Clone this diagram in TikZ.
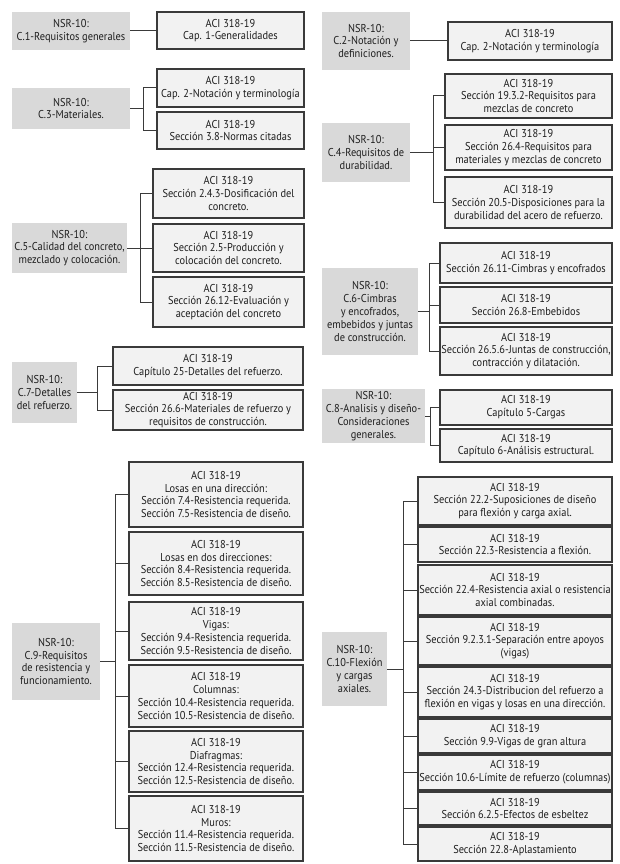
\documentclass[tikz,border=0pt]{standalone}
\usepackage{fontspec}
\setmainfont[FakeStretch=0.91]{PT Sans}
\definecolor{grayfill}{HTML}{D9D9D9}
\definecolor{acifill}{HTML}{F2F2F2}
\definecolor{edge}{HTML}{3A3A3A}
\definecolor{ink}{HTML}{1E1E1E}
\newcommand\mybox[7]{%
  \node[#1, minimum width={(#5)-(#3)}, minimum height={(#6)-(#4)}] (#2) at ({((#3)+(#5))/2},{((#4)+(#6))/2}) {#7};}
\newcommand\mybracket[5]{% gray, bracket x, first, last, middles
  \coordinate (k#1) at (#2,0);
  \draw[conn] (#1.east) -- (#1.east -| k#1);
  \draw[conn] (#3.west) -- (k#1 |- #3.west) -- (k#1 |- #4.west) -- (#4.west);
  \foreach \c in {#5} {\draw[conn] (k#1 |- \c.west) -- (\c.west);}}
\begin{document}
\begin{tikzpicture}[x=1pt,y=-1pt,
  txt/.style={font=\fontsize{11.4}{12.8}\selectfont, text=ink, align=center, inner sep=0pt},
  graybox/.style={txt, fill=grayfill, draw=none},
  acibox/.style={txt, fill=acifill, draw=edge, line width=1.1pt},
  conn/.style={draw=edge, line width=1pt}]
\useasboundingbox[fill=white] (0,0) rectangle (619,864);
% ---------- left column ----------
\mybox{graybox}{g1}{12}{12}{130}{50}{NSR-10:\\C.1-Requisitos generales}
\mybox{acibox}{a1}{157}{12}{304}{49}{ACI 318-19\\Cap. 1-Generalidades}
\draw[conn] (g1.east) -- (g1.east -| a1.west);

\mybox{graybox}{g3}{12}{88}{130}{129}{NSR-10:\\C.3-Materiales.}
\mybox{acibox}{a31}{157}{69}{304}{107}{ACI 318-19\\Cap. 2-Notación y terminología}
\mybox{acibox}{a32}{157}{112}{304}{149}{ACI 318-19\\Sección 3.8-Normas citadas}
\mybracket{g3}{143}{a31}{a32}{}

\mybox{graybox}{g5}{12}{223}{127}{273}{NSR-10:\\C.5-Calidad del concreto,\\mezclado y colocación.}
\mybox{acibox}{a51}{153}{169}{304}{218}{ACI 318-19\\Sección 2.4.3-Dosificación del\\concreto.}
\mybox{acibox}{a52}{153}{224}{304}{272}{ACI 318-19\\Sección 2.5-Producción y\\colocación del concreto.}
\mybox{acibox}{a53}{153}{277}{304}{327}{ACI 318-19\\Sección 26.12-Evaluación y\\aceptación del concreto}
\mybracket{g5}{140}{a51}{a53}{a52}

\mybox{graybox}{g7}{12}{362}{77}{423}{NSR-10:\\C.7-Detalles\\del refuerzo.}
\mybox{acibox}{a71}{113}{347}{303}{385}{ACI 318-19\\Capítulo 25-Detalles del refuerzo.}
\mybox{acibox}{a72}{113}{390}{303}{430}{ACI 318-19\\Sección 26.6-Materiales de refuerzo y\\requisitos de construcción.}
\mybracket{g7}{97}{a71}{a72}{}

\mybox{graybox}{g9}{12}{623}{100}{700}{NSR-10:\\C.9-Requisitos\\de resistencia y\\funcionamiento.}
\mybox{acibox}{a91}{129}{462}{303}{527}{ACI 318-19\\Losas en una dirección:\\Sección 7.4-Resistencia requerida.\\Sección 7.5-Resistencia de diseño.}
\mybox{acibox}{a92}{129}{532}{303}{595}{ACI 318-19\\Losas en dos direcciones:\\Sección 8.4-Resistencia requerida.\\Sección 8.5-Resistencia de diseño.}
\mybox{acibox}{a93}{129}{602}{303}{660}{ACI 318-19\\Vigas:\\Sección 9.4-Resistencia requerida.\\Sección 9.5-Resistencia de diseño.}
\mybox{acibox}{a94}{129}{665}{303}{727}{ACI 318-19\\Columnas:\\Sección 10.4-Resistencia requerida.\\Sección 10.5-Resistencia de diseño.}
\mybox{acibox}{a95}{129}{731}{303}{792}{ACI 318-19\\Diafragmas:\\Sección 12.4-Resistencia requerida.\\Sección 12.5-Resistencia de diseño.}
\mybox{acibox}{a96}{129}{796}{303}{861}{ACI 318-19\\Muros:\\Sección 11.4-Resistencia requerida.\\Sección 11.5-Resistencia de diseño.}
\mybracket{g9}{115}{a91}{a96}{a92,a93,a94,a95}
% ---------- right column ----------
\mybox{graybox}{g2}{322}{12}{410}{70}{NSR-10:\\C.2-Notación y\\definiciones.}
\mybox{acibox}{a2}{448}{22}{612}{60}{ACI 318-19\\Cap. 2-Notación y terminología}
\draw[conn] (g2.east -| a2.west) -- (g2.east);

\mybox{graybox}{g4}{322}{123}{410}{182}{NSR-10:\\C.4-Requisitos de\\durabilidad.}
\mybox{acibox}{a41}{445}{74}{612}{118}{ACI 318-19\\Sección 19.3.2-Requisitos para\\mezclas de concreto}
\mybox{acibox}{a42}{445}{125}{612}{170}{ACI 318-19\\Sección 26.4-Requisitos para\\materiales y mezclas de concreto}
\mybox{acibox}{a43}{445}{177}{612}{228}{ACI 318-19\\Sección 20.5-Disposiciones para la\\durabilidad del acero de refuerzo.}
\mybracket{g4}{433}{a41}{a43}{a42}

\mybox{graybox}{g6}{322}{268}{418}{355}{NSR-10:\\C.6-Cimbras\\y encofrados,\\embebidos y juntas\\de construcción.}
\mybox{acibox}{a61}{440}{243}{612}{283}{ACI 318-19\\Sección 26.11-Cimbras y encofrados}
\mybox{acibox}{a62}{440}{287}{612}{323}{ACI 318-19\\Sección 26.8-Embebidos}
\mybox{acibox}{a63}{440}{327}{612}{375}{ACI 318-19\\Sección 26.5.6-Juntas de construcción,\\contracción y dilatación.}
\mybracket{g6}{429}{a61}{a63}{a62}

\mybox{graybox}{g8}{322}{389}{425}{443}{NSR-10:\\C.8-Analisis y diseño-\\Consideraciones\\generales.}
\mybox{acibox}{a81}{440}{390}{612}{425}{ACI 318-19\\Capítulo 5-Cargas}
\mybox{acibox}{a82}{440}{429}{612}{462}{ACI 318-19\\Capítulo 6-Análisis estructural.}
\mybracket{g8}{430}{a81}{a82}{}

\mybox{graybox}{g10}{322}{632}{387}{706}{NSR-10:\\C.10-Flexión\\y cargas\\axiales.}
\mybox{acibox}{a101}{418}{477}{612}{525}{ACI 318-19\\Sección 22.2-Suposiciones de diseño\\para flexión y carga axial.}
\mybox{acibox}{a102}{418}{527}{612}{562}{ACI 318-19\\Sección 22.3-Resistencia a flexión.}
\mybox{acibox}{a103}{418}{565}{612}{615}{ACI 318-19\\Sección 22.4-Resistencia axial o resistencia\\axial combinadas.}
\mybox{acibox}{a104}{418}{617}{612}{665}{ACI 318-19\\Sección 9.2.3.1-Separación entre apoyos\\(vigas)}
\mybox{acibox}{a105}{418}{667}{612}{717}{ACI 318-19\\Sección 24.3-Distribucion del refuerzo a\\flexión en vigas y losas en una dirección.}
\mybox{acibox}{a106}{418}{719}{612}{753}{ACI 318-19\\Sección 9.9-Vigas de gran altura}
\mybox{acibox}{a107}{418}{755}{612}{790}{ACI 318-19\\Sección 10.6-Límite de refuerzo (columnas)}
\mybox{acibox}{a108}{418}{792}{612}{825}{ACI 318-19\\Sección 6.2.5-Efectos de esbeltez}
\mybox{acibox}{a109}{418}{827}{612}{861}{ACI 318-19\\Sección 22.8-Aplastamiento}
\mybracket{g10}{403}{a101}{a109}{a102,a103,a104,a105,a106,a107,a108}
\end{tikzpicture}
\end{document}
